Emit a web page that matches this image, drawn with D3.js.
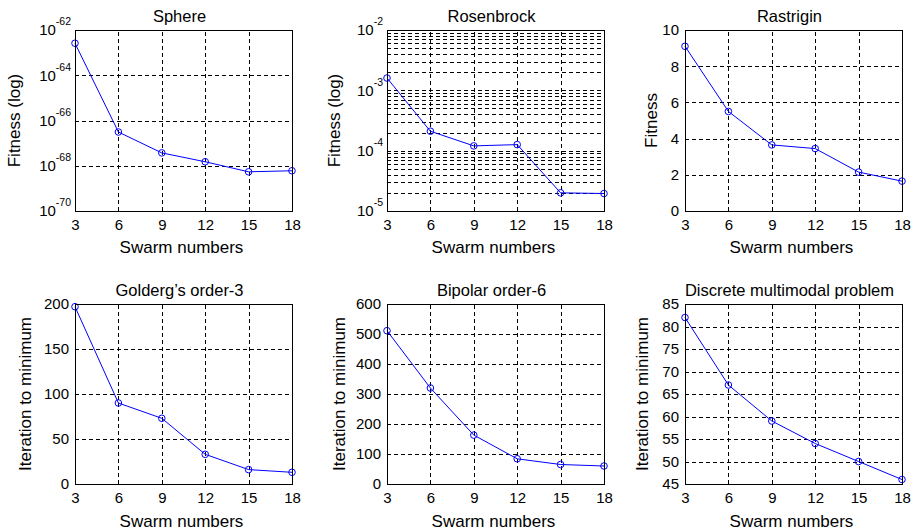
<!DOCTYPE html>
<html>
<head>
<meta charset="utf-8">
<script src="https://cdn.jsdelivr.net/npm/d3@7"></script>
<style>
  body { margin: 0; background: #fff; }
  svg { display: block; font-family: "Liberation Sans", Arial, Helvetica, sans-serif; }
</style>
</head>
<body>
<div id="chart"></div>
<script>
// Datos
const swarmNumbers = [3, 6, 9, 12, 15, 18];
const sphereFitness = [2.6e-63, 3.1e-67, 3.7e-68, 1.5e-68, 5.4e-69, 6.0e-69];
const rosenbrockFitness = [1.6e-3, 2.1e-4, 1.2e-4, 1.26e-4, 2.0e-5, 1.95e-5];
const rastriginFitness = [9.1, 5.5, 3.65, 3.45, 2.15, 1.65];
const goldbergIterations = [197, 90, 73, 33, 16, 13];
const bipolarIterations = [511, 320, 163, 84, 65, 60];
const discreteIterations = [82, 67, 59, 54, 50, 46];

const panelTitles = ['Sphere', 'Rosenbrock', 'Rastrigin', 'Golderg\u2019s order-3', 'Bipolar order-6', 'Discrete multimodal problem'];
const yLabels = ['Fitness (log)', 'Fitness (log)', 'Fitness', 'Iteration to minimum', 'Iteration to minimum', 'Iteration to minimum'];
const xLabel = 'Swarm numbers';

const sphereTicks = [1e-70, 1e-68, 1e-66, 1e-64, 1e-62];
const rosenbrockTicks = [1e-5, 1e-4, 1e-3, 1e-2];
const rastriginTicks = [0, 2, 4, 6, 8, 10];
const goldbergTicks = [0, 50, 100, 150, 200];
const bipolarTicks = [0, 100, 200, 300, 400, 500, 600];
const discreteTicks = [45, 50, 55, 60, 65, 70, 75, 80, 85];

const W = 916, H = 531;
const cols = [[75, 292], [387, 604], [685, 902]];
const rows = [[30, 211], [304, 484]];

const panels = [
  { col: 0, row: 0, values: sphereFitness, ticks: sphereTicks, log: true, minorGrid: false, yLabelX: 20 },
  { col: 1, row: 0, values: rosenbrockFitness, ticks: rosenbrockTicks, log: true, minorGrid: true, yLabelX: 340 },
  { col: 2, row: 0, values: rastriginFitness, ticks: rastriginTicks, log: false, yLabelX: 657 },
  { col: 0, row: 1, values: goldbergIterations, ticks: goldbergTicks, log: false, yLabelX: 31 },
  { col: 1, row: 1, values: bipolarIterations, ticks: bipolarTicks, log: false, yLabelX: 345 },
  { col: 2, row: 1, values: discreteIterations, ticks: discreteTicks, log: false, yLabelX: 648 }
];
const xLabelOffset = [42, 43];

const svg = d3.select('#chart').append('svg')
  .attr('width', W).attr('height', H);
svg.append('rect').attr('width', W).attr('height', H).style('fill', '#fff');

panels.forEach((p, i) => {
  const [x0, x1] = cols[p.col];
  const [y0, y1] = rows[p.row];
  const w = x1 - x0, h = y1 - y0;

  const x = d3.scaleLinear().domain([3, 18]).range([x0, x1]);
  const yDomain = d3.extent(p.ticks);
  const y = (p.log ? d3.scaleLog() : d3.scaleLinear()).domain(yDomain).range([y1, y0]);

  const g = svg.append('g');

  // Rejilla vertical
  const gridX = g.append('g')
    .attr('transform', `translate(0,${y1})`)
    .call(d3.axisBottom(x).tickValues(swarmNumbers.slice(1, -1)).tickSize(-h).tickFormat(''));
  // Rejilla horizontal
  const gridVals = p.minorGrid ? y.ticks().filter(v => v > yDomain[0] * 1.01 && v < yDomain[1] * 0.99)
                               : p.ticks.slice(1, -1);
  const gridY = g.append('g')
    .attr('transform', `translate(${x0},0)`)
    .call(d3.axisLeft(y).tickValues(gridVals).tickSize(-w).tickFormat(''));
  [gridX, gridY].forEach(gr => {
    gr.select('.domain').remove();
    gr.selectAll('.tick line')
      .style('stroke', '#000').style('stroke-width', 1)
      .style('stroke-dasharray', '4,3').attr('shape-rendering', 'crispEdges');
  });

  // Eje x
  const ax = g.append('g')
    .attr('transform', `translate(0,${y1})`)
    .call(d3.axisBottom(x).tickValues(swarmNumbers).tickSize(0).tickPadding(8));
  ax.select('.domain').remove();
  ax.selectAll('text').style('font-size', '15px').style('fill', '#000')
    .style('font-family', '"Liberation Sans", Arial, sans-serif');

  // Eje y
  const ay = g.append('g')
    .attr('transform', `translate(${x0},0)`)
    .call(d3.axisLeft(y).tickValues(p.ticks).tickSize(0).tickPadding(p.log ? 4 : 6)
      .tickFormat(d => p.log ? '' : d3.format('d')(d)));
  ay.select('.domain').remove();
  ay.selectAll('text').style('font-size', '15px').style('fill', '#000')
    .style('font-family', '"Liberation Sans", Arial, sans-serif');
  if (p.log) {
    ay.selectAll('.tick text').each(function (d) {
      const t = d3.select(this);
      t.append('tspan').text('10');
      t.append('tspan').attr('dy', '-10px').style('font-size', '10.5px')
        .text('-' + Math.abs(Math.round(Math.log10(d))));
    });
  }

  // Serie
  const pts = swarmNumbers.map((s, k) => [x(s), y(p.values[k])]);
  g.append('path')
    .attr('d', d3.line()(pts))
    .style('fill', 'none').style('stroke', '#0000ff').style('stroke-width', 1);
  g.selectAll('circle.pt').data(pts).enter().append('circle')
    .attr('class', 'pt')
    .attr('cx', d => d[0]).attr('cy', d => d[1]).attr('r', 3.3)
    .style('fill', 'none').style('stroke', '#0000ff').style('stroke-width', 1);

  // Marco
  g.append('rect')
    .attr('x', x0 + 0.5).attr('y', y0 + 0.5).attr('width', w).attr('height', h)
    .style('fill', 'none').style('stroke', '#000').style('stroke-width', 1);

  // Título
  g.append('text')
    .attr('x', (x0 + x1) / 2 - 4).attr('y', y0 - 8)
    .style('text-anchor', 'middle').style('font-size', '16.5px').style('fill', '#000')
    .text(panelTitles[i]);

  // Etiqueta x
  g.append('text')
    .attr('x', (x0 + x1) / 2 - 2).attr('y', y1 + xLabelOffset[p.row])
    .style('text-anchor', 'middle').style('font-size', '17px').style('fill', '#000')
    .text(xLabel);

  // Etiqueta y
  g.append('text')
    .attr('transform', `translate(${p.yLabelX},${(y0 + y1) / 2}) rotate(-90)`)
    .style('text-anchor', 'middle').style('font-size', '17px').style('fill', '#000')
    .text(yLabels[i]);
});
</script>
</body>
</html>
